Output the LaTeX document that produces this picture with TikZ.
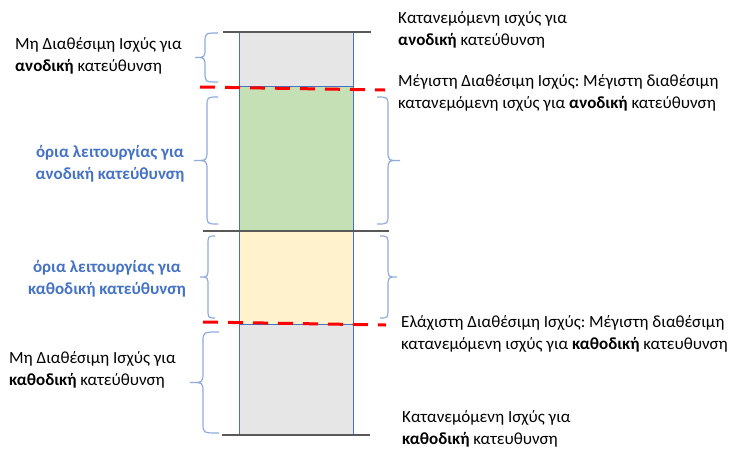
\documentclass[tikz,border=0pt]{standalone}
\usepackage{fontspec}
\setmainfont{Carlito}
\frenchspacing
\definecolor{boxblue}{HTML}{4472C4}
\definecolor{braceblue}{HTML}{8FAADC}
\definecolor{txtblue}{HTML}{4472C4}
\definecolor{grayfill}{HTML}{E6E6E6}
\definecolor{greenfill}{HTML}{C5E0B4}
\definecolor{yellowfill}{HTML}{FFF2CC}
\definecolor{lineg}{HTML}{595959}
\newcommand\OBrace[5]{%
  \pgfmathsetmacro\bym{(#4+#5)/2}%
  \draw[bracestyle] (#1,#4) .. controls (#2,#4) .. (#2,#4+10)
    -- (#2,\bym-10) .. controls (#2,\bym) .. (#3,\bym)
    .. controls (#2,\bym) .. (#2,\bym+10)
    -- (#2,#5-10) .. controls (#2,#5) .. (#1,#5);}
\tikzset{
  bar/.style={draw=boxblue, line width=1pt, anchor=north west, inner sep=0pt, minimum width=114pt},
  bracestyle/.style={draw=braceblue, line width=1.2pt},
  redline/.style={draw=red, line width=3pt, dash pattern=on 15pt off 10pt},
  grayline/.style={draw=lineg, line width=2.8pt},
  txt/.style={font=\fontsize{17}{22.5}\selectfont, align=left, inner sep=0pt, text=black},
  bluetxt/.style={font=\fontsize{17}{22.5}\selectfont\bfseries, align=center, inner sep=0pt, text=txtblue}
}
\begin{document}
\begin{tikzpicture}[x=1pt, y=-1pt]
\useasboundingbox (0,0) rectangle (735,448);
% bars
\node[bar, fill=grayfill, minimum height=54pt] (up) at (239,32) {};
\node[bar, fill=greenfill, minimum height=145pt] (green) at (239,86) {};
\node[bar, fill=yellowfill, minimum height=93pt] (yellow) at (239,231) {};
\node[bar, fill=grayfill, minimum height=110pt] (down) at (239,324) {};
% gray lines
\coordinate (topL) at (223,32); \coordinate (topR) at (371,32);
\coordinate (midL) at (203,231); \coordinate (midR) at (389,231);
\coordinate (botL) at (222,435); \coordinate (botR) at (370,435);
\draw[grayline, line width=2.3pt] (topL) -- (topR);
\draw[grayline] (midL) -- (midR);
\draw[grayline, line width=2.3pt] (botL) -- (botR);
% red dashed lines
\coordinate (maxL) at (200,87); \coordinate (maxR) at (385,90);
\coordinate (minL) at (203,322); \coordinate (minR) at (386,325);
\draw[redline] (maxL) -- (maxR);
\draw[redline] (minL) -- (minR);
% braces
\OBrace{218}{205}{195}{33}{82}
\OBrace{218}{207}{194}{97}{224}
\OBrace{377}{388}{400}{97}{224}
\OBrace{215}{208}{200}{236}{318}
\OBrace{380}{388}{397}{236}{318}
\OBrace{219}{203}{190}{332}{433}
% texts
\node[txt, anchor=west] (t1) at (398,30) {Κατανεμόμενη ισχύς για\\\textbf{ανοδική} κατεύθυνση};
\node[txt, anchor=west] (t2) at (398,93) {Μέγιστη Διαθέσιμη Ισχύς: Μέγιστη διαθέσιμη\\κατανεμόμενη ισχύς για \textbf{ανοδική} κατεύθυνση};
\node[txt, anchor=west] (t3) at (401,334) {Ελάχιστη Διαθέσιμη Ισχύς: Μέγιστη διαθέσιμη\\κατανεμόμενη ισχύς για \textbf{καθοδική} κατευθυνση};
\node[txt, anchor=west] (t4) at (402,429) {Κατανεμόμενη Ισχύς για\\\textbf{καθοδική} κατευθυνση};
\node[txt, anchor=west] (t5) at (15,56) {Μη Διαθέσιμη Ισχύς για\\\textbf{ανοδική} κατεύθυνση};
\node[txt, anchor=west] (t6) at (9,370) {Μη Διαθέσιμη Ισχύς για\\\textbf{καθοδική} κατεύθυνση};
\node[bluetxt] (b1) at (110,164) {όρια λειτουργίας για\\ανοδική κατεύθυνση};
\node[bluetxt] (b2) at (107,279) {όρια λειτουργίας για\\καθοδική κατεύθυνση};
\end{tikzpicture}
\end{document}
